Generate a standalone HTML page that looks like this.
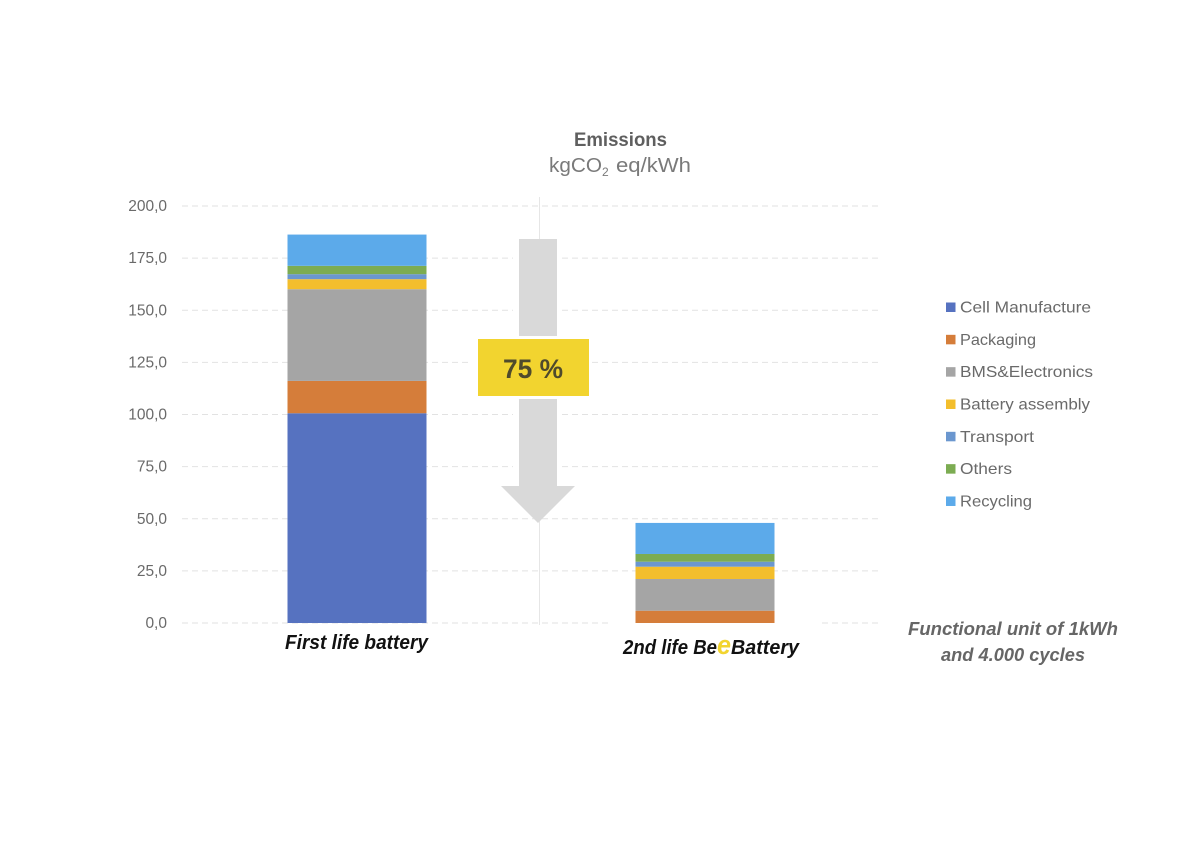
<!DOCTYPE html>
<html lang="en">
<head>
<meta charset="utf-8">
<title>Emissions chart</title>
<style>
  html, body { margin: 0; padding: 0; background: #fff; }
  #chart { display: block; width: 1200px; height: 848px; font-family: "Liberation Sans", sans-serif; filter: blur(0.35px); }
</style>
</head>
<body>
<svg id="chart" xmlns="http://www.w3.org/2000/svg" width="1200" height="848" viewBox="0 0 1200 848">
  <rect x="0" y="0" width="1200" height="848" fill="#fff"/>

  <text x="574" y="146" font-size="19.5" font-weight="bold" fill="#5f5f5f" textLength="93" lengthAdjust="spacingAndGlyphs">Emissions</text>
  <g fill="#7a7a7a">
    <text x="549" y="172" font-size="20" textLength="53" lengthAdjust="spacingAndGlyphs">kgCO</text>
    <text x="602" y="176" font-size="12">2</text>
    <text x="616" y="172" font-size="20" textLength="75" lengthAdjust="spacingAndGlyphs">eq/kWh</text>
  </g>

  <g id="grid"></g>
  <g id="yticks"></g>
  <rect x="612" y="619" width="208" height="8" fill="#fff"/>
  <line x1="539.5" y1="197" x2="539.5" y2="625" stroke="#e6e6e6" stroke-width="1"/>
  <g id="bars"></g>

  <g>
    <rect x="513" y="239" width="45" height="246" fill="#fff"/>
    <polygon points="519,239 557,239 557,486 575,486 538,523 501,486 519,486" fill="#d9d9d9"/>
  </g>
  <g>
    <rect x="469" y="336" width="122" height="63" fill="#fff"/>
    <rect x="478" y="339" width="111" height="57" fill="#f2d42f"/>
    <text x="503" y="378" font-size="27" font-weight="bold" fill="#4f4a2c" textLength="60" lengthAdjust="spacingAndGlyphs">75 %</text>
  </g>

  <text x="285" y="649" font-size="20" font-weight="bold" font-style="italic" fill="#111" textLength="143" lengthAdjust="spacingAndGlyphs">First life battery</text>
  <g font-weight="bold" font-style="italic" font-size="20">
    <text x="623" y="654" fill="#111" textLength="94" lengthAdjust="spacingAndGlyphs">2nd life Be</text>
    <text x="717" y="654" fill="#f2d42f" font-size="27" textLength="14" lengthAdjust="spacingAndGlyphs">e</text>
    <text x="731" y="654" fill="#111" textLength="68" lengthAdjust="spacingAndGlyphs">Battery</text>
  </g>

  <g font-weight="bold" font-style="italic" font-size="18" fill="#666">
    <text x="908" y="635" textLength="210" lengthAdjust="spacingAndGlyphs">Functional unit of 1kWh</text>
    <text x="941" y="661" textLength="144" lengthAdjust="spacingAndGlyphs">and 4.000 cycles</text>
  </g>

  <g id="legend"></g>
</svg>
<script>
const categories = ["First life battery", "2nd life BeeBattery"];
const seriesNames = ["Cell Manufacture", "Packaging", "BMS&Electronics", "Battery assembly", "Transport", "Others", "Recycling"];
const seriesColors = ["#5672c0", "#d57d3a", "#a5a5a5", "#f3be2c", "#6b97cf", "#7cac52", "#5caaea"];
const cellManufacture = [100.6, 0];
const packaging = [15.5, 5.9];
const bmsElectronics = [44.0, 15.2];
const batteryAssembly = [4.8, 5.9];
const transport = [2.4, 2.4];
const others = [4.0, 3.7];
const recycling = [15.0, 14.9];
const tickValues = [0, 25, 50, 75, 100, 125, 150, 175, 200];
const tickLabels = ["0,0", "25,0", "50,0", "75,0", "100,0", "125,0", "150,0", "175,0", "200,0"];
const legendLabelWidths = [131, 76, 133, 130, 74, 52, 72];

const seriesValues = [cellManufacture, packaging, bmsElectronics, batteryAssembly, transport, others, recycling];
const NS = "http://www.w3.org/2000/svg";
const yScale = v => 623 - v * 2.085;
const xCenter = i => 183 + 348 * (i + 0.5);
const BAR_WIDTH = 139;

const gridGroup = document.getElementById("grid");
const tickGroup = document.getElementById("yticks");
tickValues.forEach((v, i) => {
  const line = document.createElementNS(NS, "line");
  
  
  line.setAttribute("x1", 182);
  line.setAttribute("x2", 880);
  line.setAttribute("y1", yScale(v));
  line.setAttribute("y2", yScale(v));
  line.setAttribute("stroke", "#e2e2e2");
  line.setAttribute("stroke-width", 1);
  line.setAttribute("stroke-dasharray", "6 4");
  gridGroup.appendChild(line);

  const label = document.createElementNS(NS, "text");
  
  
  label.setAttribute("x", 167);
  label.setAttribute("y", yScale(v) + 5);
  label.setAttribute("text-anchor", "end");
  label.setAttribute("font-size", 15.5);
  label.setAttribute("fill", "#6a6a6a");
  label.textContent = tickLabels[i];
  tickGroup.appendChild(label);
});

const barsGroup = document.getElementById("bars");
categories.forEach((cat, c) => {
  let base = 0;
  seriesValues.forEach((vals, s) => {
    const v = vals[c];
    const top = base + v;
    const seg = document.createElementNS(NS, "rect");
    
    
    seg.setAttribute("x", xCenter(c) - BAR_WIDTH / 2);
    seg.setAttribute("y", yScale(top));
    seg.setAttribute("width", BAR_WIDTH);
    seg.setAttribute("height", yScale(base) - yScale(top));
    seg.setAttribute("fill", seriesColors[s]);
    const tip = document.createElementNS(NS, "title");
    tip.textContent = cat + " - " + seriesNames[s] + ": " + v;
    seg.appendChild(tip);
    barsGroup.appendChild(seg);
    base = top;
  });
});

const legendGroup = document.getElementById("legend");
const legendRowY = i => 307 + i * 32.33;
seriesNames.forEach((name, i) => {
  const swatch = document.createElementNS(NS, "rect");
  
  
  swatch.setAttribute("x", 946);
  swatch.setAttribute("y", legendRowY(i) - 4.5);
  swatch.setAttribute("width", 9.5);
  swatch.setAttribute("height", 9.5);
  swatch.setAttribute("fill", seriesColors[i]);
  legendGroup.appendChild(swatch);

  const text = document.createElementNS(NS, "text");
  
  
  text.setAttribute("x", 960);
  text.setAttribute("y", legendRowY(i) + 5.5);
  text.setAttribute("font-size", 16);
  text.setAttribute("fill", "#6a6a6a");
  text.setAttribute("textLength", legendLabelWidths[i]);
  text.setAttribute("lengthAdjust", "spacingAndGlyphs");
  text.textContent = name;
  legendGroup.appendChild(text);
});
</script>
</body>
</html>
